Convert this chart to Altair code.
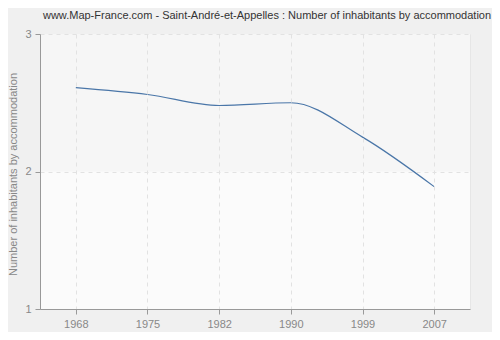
import altair as alt
import pandas as pd

years = ["1968", "1975", "1982", "1990", "1999", "2007"]
values = [2.61, 2.56, 2.48, 2.50, 2.25, 1.89]

df = pd.DataFrame({"year": years, "value": values})

title = "www.Map-France.com - Saint-André-et-Appelles : Number of inhabitants by accommodation"

band = pd.DataFrame({"y0": [2], "y1": [3]})

FONT = "Liberation Sans"

x_enc = alt.X(
    "year:O",
    sort=years,
    scale=alt.Scale(type="point", padding=0.5),
    axis=alt.Axis(
        title=None, labelAngle=0, grid=True, gridDash=[4, 4], gridColor="#e2e2e2",
        domainColor="#999999", tickColor="#999999", tickSize=5, zindex=1,
        labelColor="#888888", labelFontSize=11, labelPadding=4, labelFont=FONT,
    ),
)

y_scale = alt.Scale(domain=[1, 3], nice=False, zero=False)

y_axis = alt.Axis(
    title="Number of inhabitants by accommodation", values=[1, 2, 3], tickCount=10,
    format=".0f",
    grid=True, gridDash=[4, 4], gridColor="#e2e2e2", labelOverlap=False, zindex=1,
    domainColor="#999999", tickColor="#999999", tickSize=5,
    labelColor="#888888", labelFontSize=11, labelPadding=4, labelFont=FONT,
    titleColor="#888888", titleFontSize=11, titleFontWeight="normal",
    titleFont=FONT, titleX=-27, titleY=140, titleBaseline="middle",
    titleAlign="center", titleAngle=-90,
)

upper = alt.Chart(band).mark_rect(color="#f6f6f6").encode(
    y=alt.Y("y0:Q", scale=y_scale, axis=y_axis), y2="y1:Q",
    x=alt.value(0), x2=alt.value(430),
)

line = alt.Chart(df).mark_line(interpolate="monotone", color="#4a76a8", strokeWidth=1.2).encode(
    x=x_enc,
    y=alt.Y("value:Q", scale=y_scale, axis=y_axis),
)

chart = (
    alt.layer(upper, line)
    .properties(
        width=430, height=275,
        title=alt.TitleParams(title, fontSize=11, font=FONT, fontWeight="normal",
                              color="#333333", offset=7, dx=12),
        background="#f0f0f0",
        padding={"left": 32, "top": 26, "right": 22, "bottom": 23},
        autosize=alt.AutoSizeParams(type="none"),
    )
    .configure_view(fill="#fbfbfb", stroke="#e6e6e6")
)

chart.save("out.html", embed_options={"renderer": "svg", "actions": False})
